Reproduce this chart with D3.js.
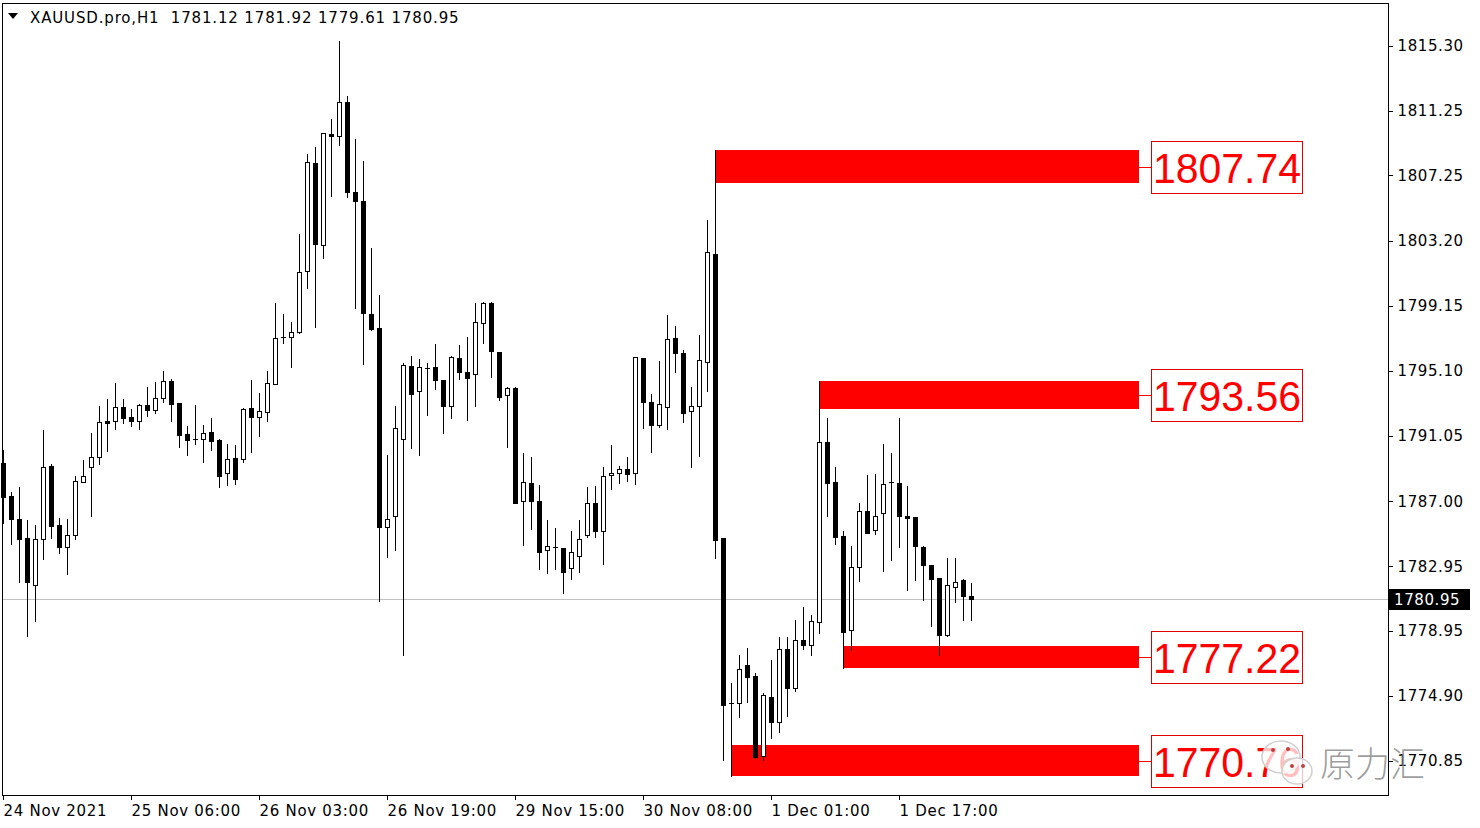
<!DOCTYPE html>
<html>
<head>
<meta charset="utf-8">
<script src="https://cdn.jsdelivr.net/npm/d3@7"></script>
<style>
  body { margin: 0; background: #fff; }
  svg { display: block; }
  text { font-family: "DejaVu Sans", sans-serif; }
</style>
</head>
<body>
<div id="chart"></div>
<script>
// XAUUSD.pro H1 candles, oldest first: open, high, low, close
var opens = [1789.38,1787.32,1785.89,1784.71,1781.79,1784.65,1789.19,1785.52,1784.15,1784.90,
  1788.19,1789.13,1789.75,1791.99,1791.99,1792.86,1792.24,1791.99,1792.98,1792.67,
  1793.42,1794.47,1793.11,1791.18,1790.87,1790.87,1791.30,1790.81,1788.75,1789.69,
  1789.62,1792.80,1792.24,1792.55,1794.29,1797.21,1797.21,1797.52,1801.31,1808.03,
  1802.93,1809.83,1809.71,1811.82,1806.22,1805.66,1798.64,1797.77,1785.40,1786.08,
  1790.87,1795.41,1793.85,1795.28,1795.34,1794.54,1792.92,1795.90,1795.03,1794.91,
  1798.08,1799.32,1796.28,1793.60,1794.04,1787.01,1788.13,1787.01,1783.97,1784.15,
  1784.09,1782.85,1783.59,1784.90,1786.89,1785.15,1788.63,1788.75,1789.00,1788.75,
  1795.90,1793.17,1791.74,1792.86,1797.15,1796.21,1792.61,1792.92,1795.65,1802.37,
  1784.71,1774.45,1774.45,1776.82,1776.13,1771.16,1774.83,1773.27,1777.81,1775.39,
  1778.37,1778.06,1779.49,1790.68,1788.19,1784.84,1778.99,1782.91,1786.39,1785.21,
  1786.27,1788.19,1788.13,1786.08,1786.02,1784.15,1783.03,1782.23,1778.68,1781.67,
  1782.10,1781.12];
var highs = [1790.18,1787.57,1787.88,1785.83,1785.52,1791.43,1789.31,1785.96,1785.89,1788.57,
  1789.56,1791.24,1792.92,1793.35,1794.35,1793.35,1792.73,1793.04,1794.10,1794.41,
  1795.10,1794.60,1793.11,1791.68,1792.98,1791.74,1792.17,1790.87,1790.56,1790.49,
  1792.80,1794.54,1793.73,1795.10,1799.32,1798.64,1798.14,1803.61,1808.59,1809.02,
  1809.89,1810.76,1815.61,1812.19,1809.52,1808.15,1802.74,1799.82,1789.87,1792.92,
  1795.59,1796.03,1795.84,1795.59,1796.77,1794.54,1796.03,1796.71,1797.21,1799.32,
  1799.39,1799.39,1796.28,1794.10,1794.10,1790.00,1789.75,1788.01,1785.83,1785.33,
  1784.09,1785.15,1785.83,1787.88,1787.95,1789.13,1790.49,1789.19,1789.75,1795.97,
  1795.90,1793.67,1795.72,1798.58,1797.89,1796.40,1794.10,1797.33,1804.48,1808.83,
  1784.71,1775.70,1777.44,1777.87,1776.32,1775.08,1777.13,1778.56,1778.56,1779.61,
  1780.42,1779.93,1794.47,1792.17,1789.13,1785.15,1784.22,1786.89,1788.63,1788.69,
  1790.56,1790.00,1792.17,1787.95,1786.02,1784.22,1783.03,1782.23,1783.47,1783.47,
  1782.16,1781.92];
var lows = [1785.65,1784.34,1781.98,1778.62,1779.55,1783.41,1784.71,1783.78,1782.47,1784.65,
  1788.19,1786.08,1789.31,1790.12,1791.49,1791.86,1791.68,1791.49,1792.30,1792.48,
  1793.17,1791.99,1790.37,1789.87,1790.56,1789.44,1790.18,1787.88,1788.01,1788.07,
  1789.44,1790.06,1791.05,1791.99,1794.29,1796.84,1795.34,1797.46,1800.26,1797.83,
  1802.12,1805.98,1809.15,1805.91,1799.01,1795.53,1797.64,1780.80,1783.53,1783.97,
  1777.44,1790.31,1789.87,1792.36,1793.98,1791.24,1792.17,1794.60,1792.05,1792.92,
  1796.84,1794.72,1793.29,1790.37,1786.89,1784.28,1785.27,1782.78,1782.54,1782.78,
  1781.29,1782.16,1782.60,1784.77,1784.77,1783.10,1787.76,1788.13,1788.26,1788.07,
  1791.55,1790.06,1791.61,1791.49,1795.03,1791.92,1789.13,1789.81,1793.85,1783.47,
  1770.91,1769.92,1773.58,1774.52,1771.04,1770.91,1772.28,1772.65,1773.65,1775.20,
  1777.81,1777.44,1778.81,1786.08,1784.34,1776.63,1777.75,1782.04,1785.02,1784.96,
  1782.66,1783.34,1784.15,1781.48,1782.10,1780.86,1779.24,1777.44,1778.62,1780.73,
  1779.61,1779.61];
var closes = [1787.26,1785.89,1784.65,1781.98,1784.65,1789.13,1785.46,1784.15,1784.90,1788.26,
  1788.57,1789.75,1791.92,1791.86,1792.86,1792.17,1791.99,1792.98,1792.67,1793.42,
  1794.47,1793.04,1791.12,1790.81,1790.87,1791.24,1790.74,1788.57,1789.62,1788.38,
  1792.73,1792.24,1792.61,1794.35,1797.15,1797.21,1797.52,1801.25,1808.09,1802.99,
  1809.89,1809.71,1811.82,1806.22,1805.66,1798.70,1797.71,1785.40,1785.89,1791.55,
  1795.47,1793.67,1795.34,1795.28,1794.54,1792.92,1795.97,1795.03,1794.66,1798.14,
  1799.32,1796.34,1793.48,1794.04,1786.89,1788.19,1787.01,1783.84,1784.22,1784.15,
  1782.60,1783.84,1784.65,1786.89,1785.15,1788.57,1788.75,1789.00,1788.69,1795.97,
  1793.17,1791.74,1793.04,1797.08,1796.21,1792.48,1792.92,1795.78,1802.49,1784.59,
  1774.33,1774.45,1776.57,1776.07,1771.10,1774.95,1773.27,1777.81,1775.39,1778.37,
  1778.06,1779.55,1790.68,1788.13,1784.77,1778.87,1782.91,1786.39,1785.02,1786.08,
  1788.07,1788.19,1786.08,1785.96,1784.22,1783.03,1782.16,1778.68,1781.79,1781.98,
  1781.11,1780.95];

// time axis labels (every 16 bars)
var timeTickBars = [0, 16, 32, 48, 64, 80, 96, 112];
var timeLabels = ["24 Nov 2021", "25 Nov 06:00", "26 Nov 03:00", "26 Nov 19:00",
  "29 Nov 15:00", "30 Nov 08:00", "1 Dec 01:00", "1 Dec 17:00"];

// price scale labels
var priceTicks = [1815.30, 1811.25, 1807.25, 1803.20, 1799.15, 1795.10, 1791.05,
  1787.00, 1782.95, 1778.95, 1774.90, 1770.85];

// red zones: start bar, top price, bottom price, label
var zoneStart = [89, 102, 105, 91];
var zoneTop = [1808.83, 1794.47, 1778.00, 1771.84];
var zoneBottom = [1806.78, 1792.73, 1776.63, 1769.92];
var zoneLabels = ["1807.74", "1793.56", "1777.22", "1770.76"];
var zoneEndBar = 142;

var lastPrice = 1780.95;
var header = "XAUUSD.pro,H1  1781.12 1781.92 1779.61 1780.95";

var width = 1480, height = 828;
var frame = {left: 2, top: 3, right: 1388, bottom: 795};

var candles = opens.map(function(o, i) {
  return {i: i, o: o, h: highs[i], l: lows[i], c: closes[i]};
});

var x = d3.scaleLinear().domain([0, 1]).range([3, 11]); // 8 px per bar
var y = d3.scaleLinear().domain([1770.85, 1815.30]).range([761, 46]);

var svg = d3.select("#chart").append("svg")
  .attr("width", width)
  .attr("height", height);

var plot = svg.append("g").attr("shape-rendering", "crispEdges");

// current price line
plot.append("line")
  .attr("x1", frame.left).attr("x2", frame.right)
  .attr("y1", Math.round(y(lastPrice)) + 0.5)
  .attr("y2", Math.round(y(lastPrice)) + 0.5)
  .attr("stroke", "#c0c0c0");

// zones (under the candles)
var zones = zoneStart.map(function(s, i) {
  return {s: s, top: zoneTop[i], bottom: zoneBottom[i], label: zoneLabels[i]};
});
plot.selectAll(".zone").data(zones).enter().append("rect")
  .attr("class", "zone")
  .attr("x", function(d) { return Math.round(x(d.s)); })
  .attr("y", function(d) { return Math.round(y(d.top)); })
  .attr("width", function(d) { return Math.round(x(zoneEndBar)) - Math.round(x(d.s)); })
  .attr("height", function(d) { return Math.round(y(d.bottom)) - Math.round(y(d.top)); })
  .attr("fill", "#ff0000");

// candles
var cg = plot.append("g").selectAll("g").data(candles).enter().append("g");
cg.append("line")
  .attr("x1", function(d) { return Math.round(x(d.i)) + 0.5; })
  .attr("x2", function(d) { return Math.round(x(d.i)) + 0.5; })
  .attr("y1", function(d) { return Math.round(y(d.h)); })
  .attr("y2", function(d) { return Math.round(y(d.l)) + 1; })
  .attr("stroke", "#000");
cg.each(function(d) {
  var g = d3.select(this);
  var xi = Math.round(x(d.i));
  var yt = Math.round(y(Math.max(d.o, d.c)));
  var yb = Math.round(y(Math.min(d.o, d.c)));
  if (yb - yt < 1) {
    g.append("line")
      .attr("x1", xi - 2).attr("x2", xi + 3)
      .attr("y1", yt + 0.5).attr("y2", yt + 0.5)
      .attr("stroke", "#000");
  } else {
    g.append("rect")
      .attr("x", xi - 1.5)
      .attr("y", yt + 0.5)
      .attr("width", 4)
      .attr("height", yb - yt)
      .attr("fill", d.c >= d.o ? "#fff" : "#000")
      .attr("stroke", "#000");
  }
});

var zl = svg.append("g").selectAll("g").data(zones).enter().append("g")
  .attr("transform", function(d) {
    return "translate(0," + Math.round((y(d.top) + y(d.bottom)) / 2) + ")";
  });
zl.append("line")
  .attr("x1", Math.round(x(zoneEndBar))).attr("x2", 1151)
  .attr("y1", 0.5).attr("y2", 0.5)
  .attr("stroke", "#ff0000")
  .attr("shape-rendering", "crispEdges");
zl.append("rect")
  .attr("x", 1151.5).attr("y", -25.5)
  .attr("width", 151).attr("height", 52)
  .attr("fill", "none")
  .attr("stroke", "#e00000")
  .attr("shape-rendering", "crispEdges");
zl.append("text")
  .attr("x", 1153).attr("y", 16)
  .attr("fill", "#ff0000")
  .style("font-family", "'Liberation Sans', Arial, sans-serif")
  .style("font-size", "42px")
  .attr("textLength", 148)
  .attr("lengthAdjust", "spacingAndGlyphs")
  .text(function(d) { return d.label; });

// frame
svg.append("rect")
  .attr("x", frame.left + 0.5).attr("y", frame.top + 0.5)
  .attr("width", frame.right - frame.left).attr("height", frame.bottom - frame.top)
  .attr("fill", "none").attr("stroke", "#000")
  .attr("shape-rendering", "crispEdges");

// price axis
var yAxis = svg.append("g")
  .attr("transform", "translate(" + (frame.right + 0.5) + ",0)")
  .call(d3.axisRight(y).tickValues(priceTicks).tickSize(4).tickPadding(5)
    .tickFormat(d3.format(".2f")));
yAxis.select(".domain").remove();
yAxis.selectAll("line").attr("shape-rendering", "crispEdges");
yAxis.selectAll("text")
  .style("font-family", "'DejaVu Sans', sans-serif")
  .style("font-size", "15px")
  .style("letter-spacing", "0.6px")
  .attr("fill", "#000");

// last price tag
var ly = Math.round(y(lastPrice));
svg.append("rect")
  .attr("x", 1389).attr("y", ly - 10)
  .attr("width", 81).attr("height", 21)
  .attr("fill", "#000");
svg.append("text")
  .attr("x", 1394).attr("y", ly + 6)
  .attr("fill", "#fff")
  .style("font-size", "15px")
  .style("letter-spacing", "0.6px")
  .text(d3.format(".2f")(lastPrice));

// time axis
var xAxis = svg.append("g")
  .attr("transform", "translate(0," + (frame.bottom + 0.5) + ")")
  .call(d3.axisBottom(x).tickValues(timeTickBars).tickSize(4).tickPadding(6)
    .tickFormat(function(d, i) { return timeLabels[i]; }));
xAxis.select(".domain").remove();
xAxis.selectAll("line").attr("shape-rendering", "crispEdges");
xAxis.selectAll("text")
  .attr("text-anchor", "start")
  .style("font-family", "'DejaVu Sans', sans-serif")
  .style("font-size", "15px")
  .style("letter-spacing", "0.7px")
  .attr("fill", "#000");

// header
svg.append("path").attr("d", "M8,13L18,13L13,19Z").attr("fill", "#000");
svg.append("text")
  .attr("x", 30).attr("y", 23)
  .style("font-size", "15px")
  .style("letter-spacing", "0.85px")
  .attr("xml:space", "preserve")
  .style("white-space", "pre")
  .text(header);

// watermark
var wm = svg.append("g");
wm.append("ellipse").attr("cx", 1281).attr("cy", 757).attr("rx", 19).attr("ry", 16)
  .attr("fill", "#fff").attr("fill-opacity", 0.75).attr("stroke", "#d0d0d0").attr("stroke-width", 1.5);
wm.append("ellipse").attr("cx", 1297).attr("cy", 771).attr("rx", 15).attr("ry", 13)
  .attr("fill", "#fff").attr("fill-opacity", 0.75).attr("stroke", "#d0d0d0").attr("stroke-width", 1.5);
[[1273, 750], [1288, 749], [1292, 766], [1303, 766]].forEach(function(p) {
  wm.append("circle").attr("cx", p[0]).attr("cy", p[1]).attr("r", 2).attr("fill", "#c04040");
});
wm.append("text")
  .attr("x", 1320).attr("y", 777)
  .style("font-family", "'Noto Sans CJK SC', sans-serif")
  .style("font-size", "35px")
  .style("font-weight", 300)
  .attr("fill", "#8c8c8c")
  .attr("fill-opacity", 0.85)
  .text("原力汇");
</script>
</body>
</html>
